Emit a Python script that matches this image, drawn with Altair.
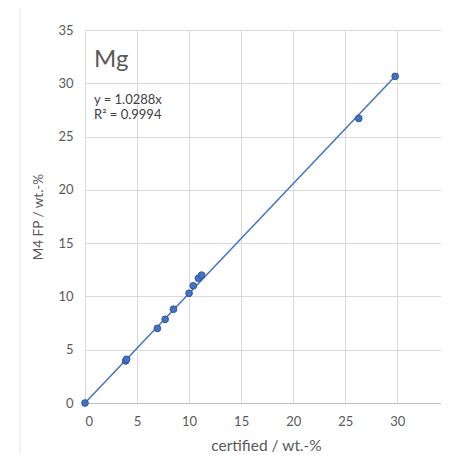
import altair as alt
import pandas as pd

certified = [0.0, 3.9, 4.0, 6.95, 7.7, 8.5, 10.0, 10.4, 10.9, 11.2, 26.3, 29.8]
measured = [0.0, 3.95, 4.1, 7.0, 7.85, 8.8, 10.3, 11.0, 11.7, 12.0, 26.7, 30.65]
slope = 1.0288
r2 = 0.9994
element = "Mg"
ticks = [0, 5, 10, 15, 20, 25, 30, 35]
x_visible_max = 34.2

pts = pd.DataFrame({"x": certified, "y": measured})
xmax = max(certified)
trend = pd.DataFrame({"x": [0.0, xmax], "y": [0.0, slope * xmax]})

FONT = "Lato"
xs = alt.Scale(domain=[0, x_visible_max], nice=False, zero=True)
ys = alt.Scale(domain=[0, 35], nice=False, zero=True)

enc_x = alt.X("x:Q", scale=xs, axis=alt.Axis(
    values=ticks[:-1], title="certified / wt.-%", titleX=181, titleY=47,
    titleBaseline="alphabetic", titleFontSize=15.5))
enc_y = alt.Y("y:Q", scale=ys, axis=alt.Axis(values=ticks, title="M4 FP / wt.-%"))

line = alt.Chart(trend).mark_line(color="#4472C4", strokeWidth=1.5).encode(x=enc_x, y=enc_y)
points = alt.Chart(pts).mark_point(
    filled=True, size=45, color="#4472C4", stroke="#2F5597", strokeWidth=1, opacity=1
).encode(x=enc_x, y=enc_y)

one = pd.DataFrame({"a": [0]})
label = alt.Chart(one).mark_text(
    align="left", baseline="alphabetic", fontSize=24, color="#595959", font=FONT, text=element
).encode(x=alt.value(9), y=alt.value(37))

eq1 = alt.Chart(one).mark_text(
    align="left", baseline="alphabetic", fontSize=13, color="#404040", font=FONT, text=f"y = {slope}x"
).encode(x=alt.value(9), y=alt.value(74))
eq2 = alt.Chart(one).mark_text(
    align="left", baseline="alphabetic", fontSize=13, color="#404040", font=FONT, text=f"R\u00b2 = {r2}"
).encode(x=alt.value(9), y=alt.value(89))

frame = alt.Chart(one).mark_rect(
    fill=None, stroke="#E3E3E3", strokeWidth=1, clip=False
).encode(x=alt.value(-65), x2=alt.value(380), y=alt.value(-25), y2=alt.value(440))

chart = alt.layer(frame, line, points, label, eq1, eq2).properties(
    width=356, height=373,
    autosize=alt.AutoSizeParams(type="none"),
    padding={"left": 77, "top": 22, "right": 0, "bottom": 51},
).configure_view(stroke=None).configure_axis(
    labelFont=FONT, titleFont=FONT, labelColor="#595959", titleColor="#595959",
    labelFontSize=13, titleFontSize=13.5, titleFontWeight="normal",
    gridColor="#D9D9D9", gridWidth=1, ticks=False,
).configure_axisX(
    domain=True, domainColor="#BFBFBF", labelPadding=12,
).configure_axisY(
    domain=False, labelPadding=12, titlePadding=12,
)

chart.save("out.html", embed_options={"renderer": "svg", "actions": False})
